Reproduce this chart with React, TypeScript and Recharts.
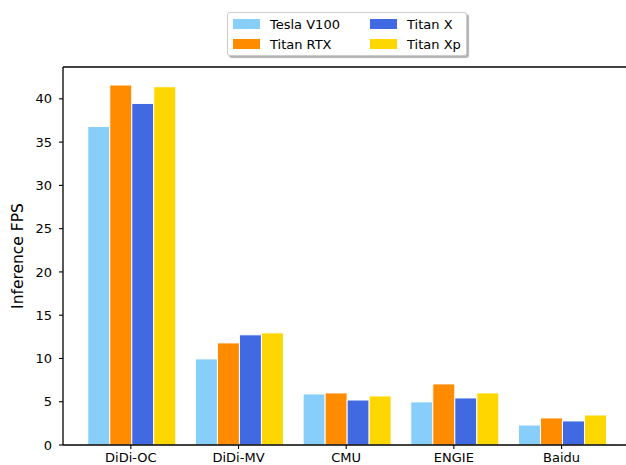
import { Bar, BarChart, ReferenceLine, XAxis, YAxis } from "recharts";

const SITES = ["DiDi-OC", "DiDi-MV", "CMU", "ENGIE", "Baidu"];
const TESLA_V100 = [36.8, 9.95, 5.9, 4.98, 2.31];
const TITAN_RTX = [41.6, 11.8, 6.02, 7.06, 3.13];
const TITAN_X = [39.47, 12.73, 5.2, 5.44, 2.78];
const TITAN_XP = [41.4, 12.96, 5.67, 6.02, 3.47];
const Y_TICKS = [0, 5, 10, 15, 20, 25, 30, 35, 40];

const SERIES = [
  { key: "tesla", name: "Tesla V100", color: "#87CEFA" },
  { key: "rtx", name: "Titan RTX", color: "#FF8C00" },
  { key: "x", name: "Titan X", color: "#4169E1" },
  { key: "xp", name: "Titan Xp", color: "#FFD700" },
];

// headroom above the tallest bar, like matplotlib's default 5% margin
const Y_MAX = Math.max(...TESLA_V100, ...TITAN_RTX, ...TITAN_X, ...TITAN_XP) * 1.05;

const FONT = "'DejaVu Sans', sans-serif";

const rows = SITES.map((site, i) => ({
  site,
  tesla: TESLA_V100[i],
  rtx: TITAN_RTX[i],
  x: TITAN_X[i],
  xp: TITAN_XP[i],
}));

function LegendBox() {
  // two columns: Tesla V100 / Titan RTX, then Titan X / Titan Xp
  const columns = [SERIES.slice(0, 2), SERIES.slice(2, 4)];
  return (
    <div
      style={{
        position: "absolute",
        left: 227,
        top: 12,
        width: 238,
        height: 42,
        border: "1px solid #cccccc",
        borderRadius: 3,
        background: "#fff",
        boxShadow: "2px 2px 1px rgba(0,0,0,0.3)",
        display: "flex",
        fontFamily: FONT,
        fontSize: 13,
        color: "#000",
      }}
    >
      {columns.map((col, c) => (
        <div key={c} style={{ paddingLeft: c === 0 ? 5 : 0, width: c === 0 ? 140 : 98, paddingTop: 1 }}>
          {col.map((s) => (
            <div key={s.key} style={{ display: "flex", alignItems: "center", height: 20 }}>
              <span style={{ display: "inline-block", width: 27, height: 10, background: s.color, marginRight: 10 }} />
              <span>{s.name}</span>
            </div>
          ))}
        </div>
      ))}
    </div>
  );
}

export default function App() {
  return (
    <div style={{ position: "absolute", left: 0, top: 0, width: 626, height: 465, overflow: "hidden", background: "#fff" }}>
      <BarChart
        width={640}
        height={465}
        data={rows}
        margin={{ top: 67, right: 10.6, bottom: 0, left: 0 }}
        barCategoryGap="10%"
        barGap={0}
      >
        <XAxis
          dataKey="site"
          padding={{ left: 14, right: 14 }}
          height={20}
          tickSize={4}
          tickMargin={4}
          axisLine={{ stroke: "#000", strokeWidth: 1.3 }}
          tickLine={{ stroke: "#000", strokeWidth: 1.1 }}
          tick={{ fill: "#000", fontSize: 13, fontFamily: FONT }}
          interval={0}
        />
        <YAxis
          type="number"
          domain={[0, Y_MAX]}
          ticks={Y_TICKS}
          width={63}
          tickSize={4}
          tickMargin={7}
          axisLine={{ stroke: "#000", strokeWidth: 1.3 }}
          tickLine={{ stroke: "#000", strokeWidth: 1.1 }}
          tick={{ fill: "#000", fontSize: 13, fontFamily: FONT }}
          label={{
            value: "Inference FPS",
            angle: -90,
            position: "insideLeft",
            offset: 17,
            style: { textAnchor: "middle", fill: "#000", fontSize: 15.5, fontFamily: FONT },
          }}
        />
        <ReferenceLine y={Y_MAX} stroke="#000" strokeWidth={1.3} />
        {SERIES.map((s) => (
          <Bar
            key={s.key}
            dataKey={s.key}
            name={s.name}
            fill={s.color}
            stroke="#fff"
            strokeWidth={1}
            isAnimationActive={false}
          />
        ))}
      </BarChart>
      <LegendBox />
    </div>
  );
}
